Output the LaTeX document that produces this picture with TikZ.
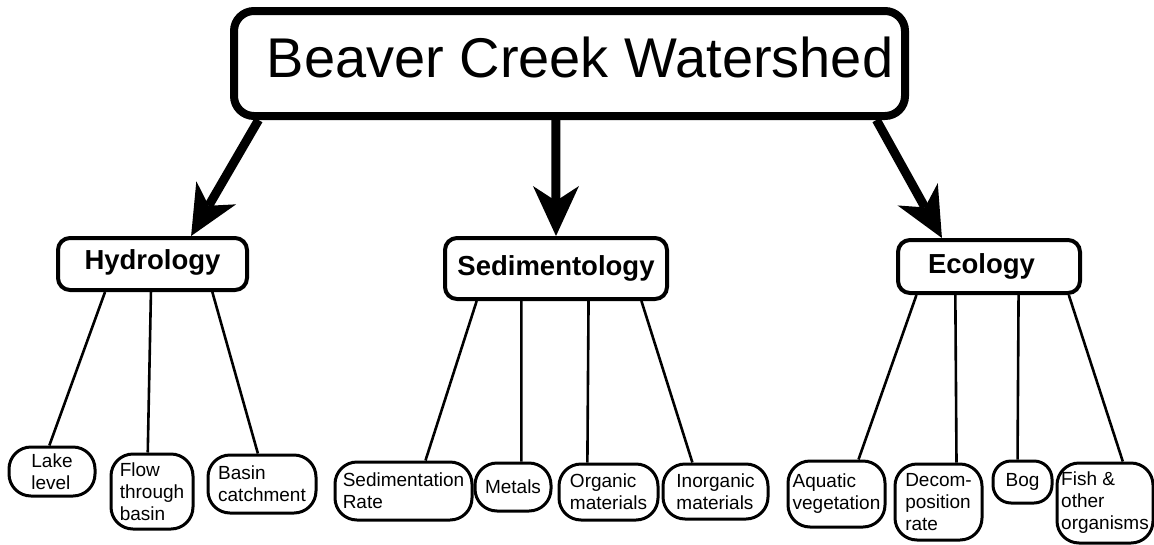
\documentclass[tikz,border=0pt]{standalone}
\usepackage{fontspec}
\setmainfont{Liberation Sans}
\usetikzlibrary{arrows.meta,calc}
\tikzset{
  mainbox/.style={draw, line width=8pt, rounded corners=20pt, minimum width=671pt, minimum height=105pt, inner sep=0pt, font=\fontsize{56}{60}\selectfont, text depth=12pt},
  midbox/.style={draw, line width=4pt, rounded corners=12pt, inner sep=0pt, font=\bfseries\fontsize{27.5}{32}\selectfont, text height=19pt, text depth=6pt},
  leaf/.style={draw, line width=3pt, rounded corners=22pt, inner sep=0pt, align=left, font=\fontsize{19}{22}\selectfont},
  bigarrow/.style={line width=9pt, -{Stealth[length=50pt, width=46pt, inset=15pt, line width=0pt]}},
  conn/.style={line width=2.6pt},
}
\begin{document}
\begin{tikzpicture}[x=1pt,y=-1pt]
\useasboundingbox (0,0) rectangle (1154,544);

\node[mainbox] (main) at (569.5,63.5) {\hspace*{21pt}Beaver Creek Watershed};

\node[midbox, minimum width=189pt, minimum height=52pt, text height=16pt] (hyd) at (152.5,264) {Hydrology};
\node[midbox, minimum width=222pt, minimum height=61pt] (sed) at (556,268.5) {Sedimentology};
\node[midbox, minimum width=182pt, minimum height=53pt] (eco) at (989,266.5) {\hspace*{-15pt}Ecology};

\node[leaf, minimum width=86pt, minimum height=49pt] (lake) at (52,471.5) {Lake\\level};
\node[leaf, minimum width=82pt, minimum height=75pt] (flow) at (152,491.5) {Flow\\through\\basin};
\node[leaf, minimum width=108pt, minimum height=58pt] (basin) at (262,484) {Basin\\catchment};
\node[leaf, minimum width=137pt, minimum height=58pt] (sedrate) at (403.5,491) {Sedimentation\\Rate};
\node[leaf, minimum width=76pt, minimum height=48pt] (metals) at (513,487) {Metals};
\node[leaf, minimum width=99pt, minimum height=56pt] (organic) at (608.5,492) {Organic\\materials};
\node[leaf, minimum width=105pt, minimum height=55pt] (inorganic) at (715.5,491.5) {Inorganic\\materials};
\node[leaf, minimum width=97pt, minimum height=66pt] (aquatic) at (836.5,494) {Aquatic\\vegetation};
\node[leaf, minimum width=87pt, minimum height=76pt] (decomp) at (938.5,502) {Decom-\\position\\rate};
\node[leaf, minimum width=59pt, minimum height=42pt, rounded corners=18pt] (bog) at (1022.5,482) {Bog};
\node[leaf, minimum width=96pt, minimum height=80pt] (fish) at (1105,503) {Fish \&\\other\\organisms};

% big arrows
\draw[bigarrow] ($(main.south west)!0.042!(main.south east)$) -- ($(hyd.north west)!0.70!(hyd.north east)$);
\draw[bigarrow] ($(main.south west)!0.48!(main.south east)$) -- ($(sed.north west)!0.5!(sed.north east)$);
\draw[bigarrow] ($(main.south west)!0.952!(main.south east)$) -- ($(eco.north west)!0.247!(eco.north east)$);

% hydrology
\draw[conn] ($(hyd.south west)!0.254!(hyd.south east)$) -- ($(lake.north west)!0.47!(lake.north east)$);
\draw[conn] ($(hyd.south west)!0.492!(hyd.south east)$) -- ($(flow.north west)!0.45!(flow.north east)$);
\draw[conn] ($(hyd.south west)!0.81!(hyd.south east)$) -- ($(basin.north west)!0.463!(basin.north east)$);
% sedimentology
\draw[conn] ($(sed.south west)!0.149!(sed.south east)$) -- ($(sedrate.north west)!0.657!(sedrate.north east)$);
\draw[conn] ($(sed.south west)!0.347!(sed.south east)$) -- ($(metals.north west)!0.605!(metals.north east)$);
\draw[conn] ($(sed.south west)!0.644!(sed.south east)$) -- ($(organic.north west)!0.293!(organic.north east)$);
\draw[conn] ($(sed.south west)!0.878!(sed.south east)$) -- ($(inorganic.north west)!0.286!(inorganic.north east)$);
% ecology
\draw[conn] ($(eco.south west)!0.11!(eco.south east)$) -- ($(aquatic.north west)!0.72!(aquatic.north east)$);
\draw[conn] ($(eco.south west)!0.319!(eco.south east)$) -- ($(decomp.north west)!0.70!(decomp.north east)$);
\draw[conn] ($(eco.south west)!0.659!(eco.south east)$) -- ($(bog.north west)!0.42!(bog.north east)$);
\draw[conn] ($(eco.south west)!0.929!(eco.south east)$) -- ($(fish.north west)!0.68!(fish.north east)$);
\end{tikzpicture}
\end{document}
